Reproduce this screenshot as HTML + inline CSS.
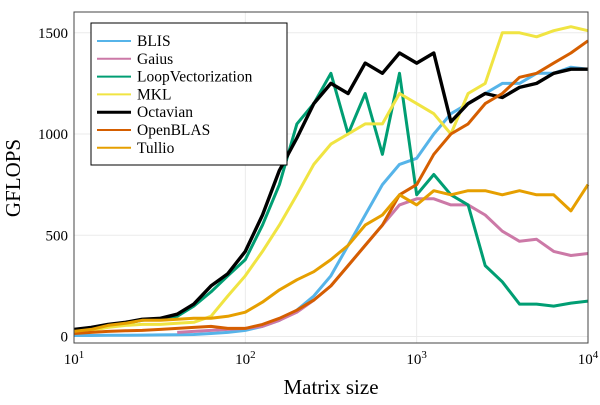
<!DOCTYPE html>
<html><head><meta charset="utf-8"><style>
body{margin:0;background:#fff}
svg text{font-family:"Liberation Serif",serif;fill:#000}
</style></head><body>
<svg width="600" height="400" id="svg">
<rect x="0" y="0" width="600" height="400" fill="#fff"/>
<g id="grid"></g>
<g id="series"></g>
<rect x="74" y="12" width="514" height="331" fill="none" stroke="#444" stroke-width="1"/>
<g id="axes"></g>
<text x="20" y="178" font-size="21" text-anchor="middle" transform="rotate(-90 20 178)">GFLOPS</text>
<text x="331" y="394" font-size="21" text-anchor="middle">Matrix size</text>
<g id="legend"></g>
</svg>
<script>
const sizes=[10,12.6,15.8,20,25,32,40,50,63,79,100,126,158,200,251,316,398,501,631,794,1000,1259,1585,1995,2512,3162,3981,5012,6310,7943,10000];
const seriesNames=["BLIS","Gaius","LoopVectorization","MKL","Octavian","OpenBLAS","Tullio"];
const blis=[5,5,6,6,7,8,9,10,15,20,30,50,80,130,200,300,450,600,750,850,880,1000,1100,1150,1200,1250,1250,1300,1300,1330,1320];
const gaius=[null,null,null,null,null,null,20,25,30,35,40,50,80,120,180,250,350,450,550,650,680,680,650,650,600,520,470,480,420,400,410];
const loopvec=[25,35,55,65,80,90,100,150,220,300,380,550,750,1050,1150,1300,1000,1200,900,1300,700,800,700,650,350,270,160,160,150,165,175];
const mkl=[20,30,45,55,60,60,65,70,100,200,300,420,550,700,850,950,1000,1050,1050,1200,1150,1100,1000,1200,1250,1500,1500,1480,1510,1530,1510];
const octavian=[35,45,60,70,85,90,110,160,250,310,420,600,820,980,1150,1250,1200,1350,1300,1400,1350,1400,1060,1150,1200,1180,1230,1250,1300,1320,1320];
const openblas=[15,20,25,28,30,35,40,45,50,40,40,60,90,130,180,250,350,450,550,700,750,900,1000,1050,1150,1200,1280,1300,1350,1400,1460];
const tullio=[25,35,55,65,80,80,85,90,90,100,120,170,230,280,320,380,450,550,600,700,650,720,700,720,720,700,720,700,700,620,750];
const yTicks=[0,500,1000,1500];
const xTicks=[10,100,1000,10000];
const colors=["#56b4e9","#cc79a7","#009e73","#f0e442","#000000","#d55e00","#e69f00"];
const NS="http://www.w3.org/2000/svg";
const X0=74,X1=588,Y0=336.5,PXG=0.2025;
function xs(v){return X0+(Math.log10(v)-1)/3*(X1-X0);}
function ys(v){return Y0-v*PXG;}
const grid=document.getElementById('grid'),axes=document.getElementById('axes');
yTicks.forEach(t=>{
 const l=document.createElementNS(NS,'line');l.setAttribute('x1',X0);l.setAttribute('x2',X1);l.setAttribute('y1',ys(t));l.setAttribute('y2',ys(t));l.setAttribute('stroke','#ebebeb');
 
 
 grid.appendChild(l);
 const tx=document.createElementNS(NS,'text');tx.setAttribute('x',68);tx.setAttribute('y',ys(t)+5);tx.setAttribute('font-size','15');tx.setAttribute('text-anchor','end');tx.textContent=t;
 
 
 axes.appendChild(tx);
});
xTicks.forEach(t=>{
 const l=document.createElementNS(NS,'line');l.setAttribute('x1',xs(t));l.setAttribute('x2',xs(t));l.setAttribute('y1',12);l.setAttribute('y2',343);l.setAttribute('stroke','#ebebeb');
 
 
 grid.appendChild(l);
 const tx=document.createElementNS(NS,'text');tx.setAttribute('x',xs(t));tx.setAttribute('y',364);tx.setAttribute('font-size','15');tx.setAttribute('text-anchor','middle');
 tx.innerHTML='10<tspan dy="-6" font-size="11">'+Math.round(Math.log10(t))+'</tspan>';
 
 
 axes.appendChild(tx);
});
const all=[blis,gaius,loopvec,mkl,octavian,openblas,tullio];
const sg=document.getElementById('series');
all.forEach((arr,i)=>{
 let d='';let pen=false;
 arr.forEach((v,j)=>{if(v==null){pen=false;return;}d+=(pen?'L':'M')+xs(sizes[j]).toFixed(1)+','+ys(v).toFixed(1);pen=true;});
 const p=document.createElementNS(NS,'path');p.setAttribute('d',d);p.setAttribute('fill','none');p.setAttribute('stroke',colors[i]);p.setAttribute('stroke-width',i==4?3.4:3);p.setAttribute('stroke-linejoin','round');
 
 
 sg.appendChild(p);
});
const lg=document.getElementById('legend');
const box=document.createElementNS(NS,'rect');box.setAttribute('x',91);box.setAttribute('y',23);box.setAttribute('width',196);box.setAttribute('height',142);box.setAttribute('fill','#fff');box.setAttribute('stroke','#000');


lg.appendChild(box);
seriesNames.forEach((n,i)=>{
 const y=41+i*17.8;
 const l=document.createElementNS(NS,'line');l.setAttribute('x1',97);l.setAttribute('x2',131);l.setAttribute('y1',y);l.setAttribute('y2',y);l.setAttribute('stroke',colors[i]);l.setAttribute('stroke-width',i==4?3:2);
 
 
 lg.appendChild(l);
 const t=document.createElementNS(NS,'text');t.setAttribute('x',137);t.setAttribute('y',y+5);t.setAttribute('font-size','15.5');t.textContent=n;
 
 
 lg.appendChild(t);
});
</script>
</body></html>
